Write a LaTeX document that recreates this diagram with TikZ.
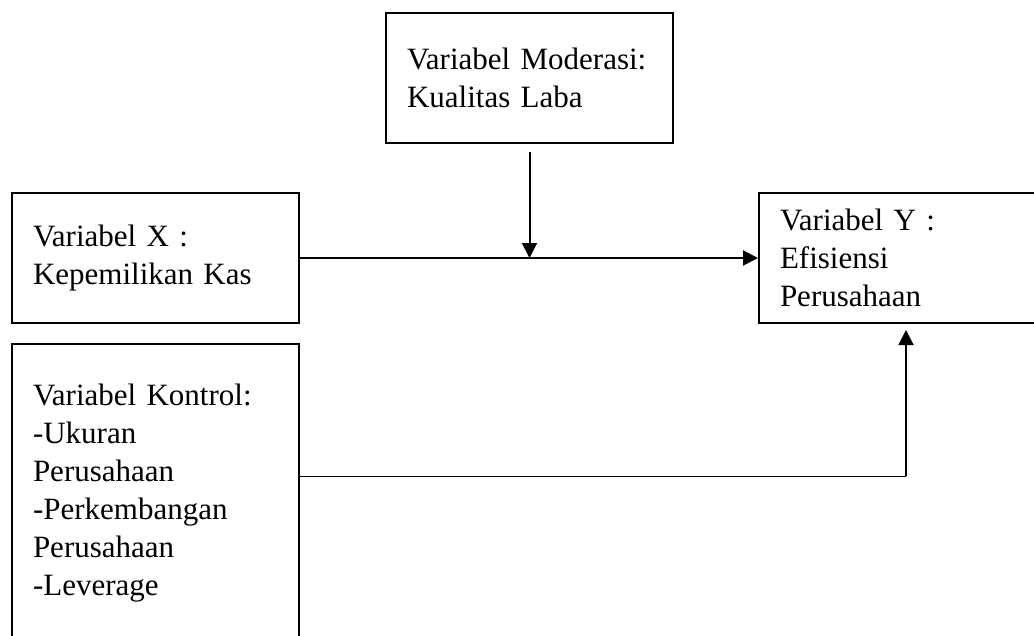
\documentclass[tikz,border=0pt]{standalone}
\usepackage{fontspec}
\setmainfont{Liberation Serif}
\usetikzlibrary{arrows.meta}
\begin{document}
\begin{tikzpicture}[x=1pt,y=-1pt,
    kotak/.style={draw,line width=2pt,minimum width=287pt,text width=245pt,inner xsep=21pt,
      align=left,anchor=north west,font=\fontsize{31}{38}\selectfont},
    panah/.style={line width=2pt,-{Triangle[length=15pt,width=15pt]}}]
        \useasboundingbox (0,0) rectangle (1034,635);
        \node[kotak,minimum height=130pt] (moderasi) at (385,12) {Variabel Moderasi:\\Kualitas Laba};
        \node[kotak,minimum height=130pt] (varx) at (11,192) {Variabel X :\\Kepemilikan Kas};
        \node[kotak,minimum height=299pt] (kontrol) at (11,343) {Variabel Kontrol:\\-Ukuran\\Perusahaan\\-Perkembangan\\Perusahaan\\-Leverage};
        \node[kotak,minimum height=130pt] (vary) at (758,192) {Variabel Y :\\Efisiensi\\Perusahaan};
        \coordinate (temu) at (moderasi.south |- varx.east);
        \coordinate (belok) at (906,476);
        \draw[panah] (varx.east) -- (vary.west);
        \draw[panah,shorten <=8pt] (moderasi.south) -- (temu);
        \draw[line width=1pt] (kontrol.east |- belok) -- (belok);
        \draw[panah,shorten >=6pt] (belok) -- (belok |- vary.south);
\end{tikzpicture}
\end{document}
